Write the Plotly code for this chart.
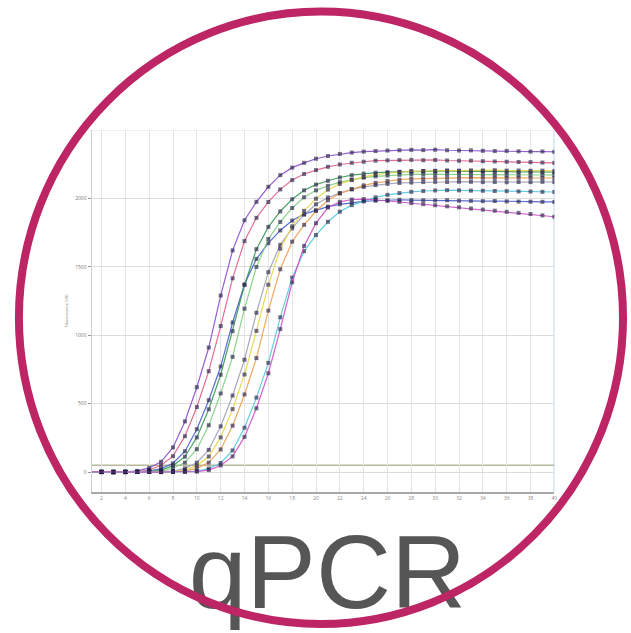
import plotly.graph_objects as go

cycles = list(range(1, 41))

curve_names = ["A", "B", "C", "D", "E", "F", "G", "H", "I", "J"]
curve_colors = ["#8a4fd0", "#e0608a", "#4a5fd0", "#3a9a5a", "#7fd07f",
                "#a0a0b8", "#e6d84a", "#f0a050", "#50c8dc", "#d050c8"]

curve_A = [2, -1, 3, 0, 8, 30, 75, 180, 370, 620, 910, 1290, 1620, 1840, 1975, 2085, 2170, 2225, 2260, 2290,
           2310, 2325, 2335, 2342, 2346, 2350, 2352, 2355, 2353, 2356, 2352, 2350, 2351, 2348, 2346, 2347, 2344, 2342, 2343, 2340]
curve_B = [1, 3, -2, 2, 3, 15, 49, 116, 262, 475, 737, 1067, 1416, 1688, 1858, 1974, 2066, 2134, 2178, 2207,
           2231, 2248, 2260, 2268, 2276, 2278, 2280, 2282, 2279, 2281, 2277, 2275, 2276, 2272, 2270, 2268, 2266, 2265, 2262, 2260]
curve_C = [0, 2, -1, 1, 0, 7, 25, 64, 152, 313, 525, 771, 1093, 1372, 1558, 1673, 1766, 1838, 1885, 1914,
           1940, 1957, 1969, 1978, 1983, 1987, 1990, 1988, 1986, 1985, 1987, 1983, 1982, 1980, 1981, 1978, 1977, 1976, 1975, 1974]
curve_D = [1, 0, 2, -1, 1, 3, 14, 47, 112, 253, 459, 711, 1030, 1367, 1629, 1792, 1905, 1994, 2059, 2101,
           2129, 2153, 2170, 2181, 2188, 2192, 2195, 2198, 2200, 2199, 2201, 2198, 2197, 2199, 2196, 2195, 2194, 2195, 2193, 2192]
curve_E = [0, 1, -2, 2, 0, 3, 7, 28, 69, 167, 342, 574, 842, 1194, 1499, 1703, 1828, 1930, 2008, 2059,
           2092, 2119, 2138, 2152, 2161, 2167, 2172, 2175, 2177, 2176, 2178, 2176, 2175, 2177, 2174, 2173, 2172, 2173, 2171, 2172]
curve_F = [1, -1, 0, 2, 1, 0, 2, 7, 27, 68, 162, 334, 559, 821, 1164, 1461, 1660, 1781, 1881, 1957,
           2007, 2039, 2066, 2084, 2097, 2106, 2113, 2116, 2119, 2121, 2120, 2122, 2121, 2119, 2120, 2118, 2120, 2119, 2121, 2120]
curve_G = [0, 2, 1, -1, 0, 2, 1, 3, 14, 47, 113, 253, 460, 713, 1032, 1369, 1632, 1796, 1909, 1998,
           2064, 2106, 2134, 2157, 2174, 2186, 2193, 2197, 2200, 2202, 2204, 2203, 2205, 2204, 2206, 2203, 2204, 2202, 2203, 2201]
curve_H = [1, 0, -1, 2, 0, 1, 0, 2, 7, 27, 69, 165, 339, 567, 833, 1180, 1482, 1684, 1807, 1908,
           1986, 2036, 2068, 2095, 2114, 2127, 2137, 2143, 2146, 2149, 2151, 2150, 2152, 2151, 2150, 2149, 2151, 2150, 2148, 2149]
curve_I = [0, 1, -1, 2, 0, 1, -1, 1, 2, 7, 26, 66, 158, 324, 544, 798, 1131, 1421, 1614, 1732,
           1829, 1903, 1951, 1982, 2008, 2026, 2039, 2048, 2054, 2058, 2060, 2059, 2057, 2056, 2054, 2053, 2051, 2050, 2048, 2047]
curve_J = [1, 0, 2, -1, 0, 1, 0, 2, 1, 3, 14, 48, 114, 257, 466, 722, 1045, 1387, 1653, 1819,
           1933, 1975, 1992, 1995, 1990, 1982, 1975, 1966, 1958, 1950, 1942, 1935, 1926, 1918, 1910, 1902, 1894, 1886, 1876, 1866]

curves = [curve_A, curve_B, curve_C, curve_D, curve_E, curve_F, curve_G, curve_H, curve_I, curve_J]

x_ticks = list(range(2, 41, 2))
y_ticks = [0, 500, 1000, 1500, 2000]
threshold = 50
y_title = "Fluorescence (dR)"
label = "qPCR"

W, H = 631, 633

fig = go.Figure()

for name, color, vals in zip(curve_names, curve_colors, curves):
    fig.add_trace(go.Scatter(
        x=cycles, y=vals, mode="lines+markers", name=name,
        line=dict(color=color, width=1.2),
        marker=dict(size=4, symbol="square", color="rgba(35,30,70,0.7)", line=dict(width=0)),
        opacity=0.9,
        showlegend=False, xaxis="x", yaxis="y",
    ))

# big label as text trace on a pixel overlay axis so the ring is drawn over it
fig.add_trace(go.Scatter(
    x=[329], y=[H - 582], mode="text", text=[label],
    textfont=dict(family="Liberation Sans, Arial, sans-serif", size=104, color="#565656"),
    textposition="middle center", showlegend=False, hoverinfo="skip",
    xaxis="x2", yaxis="y2", cliponaxis=False,
))

x_dom = [92 / W, 557 / W]
y_dom = [1 - 492 / H, 1 - 130 / H]

fig.update_layout(
    width=W, height=H, autosize=False,
    margin=dict(l=0, r=0, t=0, b=0),
    paper_bgcolor="white", plot_bgcolor="rgba(0,0,0,0)",
    xaxis=dict(domain=x_dom, range=[1.165, 40], anchor="y",
               tickvals=x_ticks, ticktext=[str(v) for v in x_ticks],
               showgrid=True, gridcolor="#e4e4e4", gridwidth=1,
               showline=True, linecolor="#a8a8a8", linewidth=2,
               ticks="", tickfont=dict(size=5, color="#8a8a8a"),
               zeroline=False, fixedrange=True),
    yaxis=dict(domain=y_dom, range=[-146, 2500], anchor="x",
               tickvals=y_ticks, ticktext=[str(v) for v in y_ticks],
               showgrid=True, gridcolor="#dcdcdc", gridwidth=1,
               showline=True, linecolor="#d0d0d0", linewidth=1,
               ticks="outside", ticklen=3, tickcolor="#999",
               tickfont=dict(size=5, color="#777"),
               title=dict(text=y_title, font=dict(size=4, color="#777"), standoff=6),
               zeroline=False, fixedrange=True),
    xaxis2=dict(domain=[0, 1], range=[0, W], anchor="y2", visible=False, fixedrange=True),
    yaxis2=dict(domain=[0, 1], range=[0, H], anchor="x2", visible=False, fixedrange=True),
    shapes=[
        dict(type="line", xref="x", yref="y", x0=1.165, x1=40, y0=threshold, y1=threshold,
             line=dict(color="#b9b99c", width=1.5), layer="below"),
        dict(type="line", xref="x", yref="y", x0=1.165, x1=40, y0=2500, y1=2500,
             line=dict(color="#e4e4e4", width=1), layer="below"),
        dict(type="line", xref="x", yref="y", x0=40, x1=40, y0=-146, y1=2500,
             line=dict(color="#a9cce8", width=1.5), layer="below"),
        dict(type="circle", xref="x2", yref="y2", x0=19, x1=626, y0=H - 624, y1=H - 11.5,
             line=dict(color="#bd2565", width=8), layer="above"),
    ],
)

fig.write_html("out.html")
